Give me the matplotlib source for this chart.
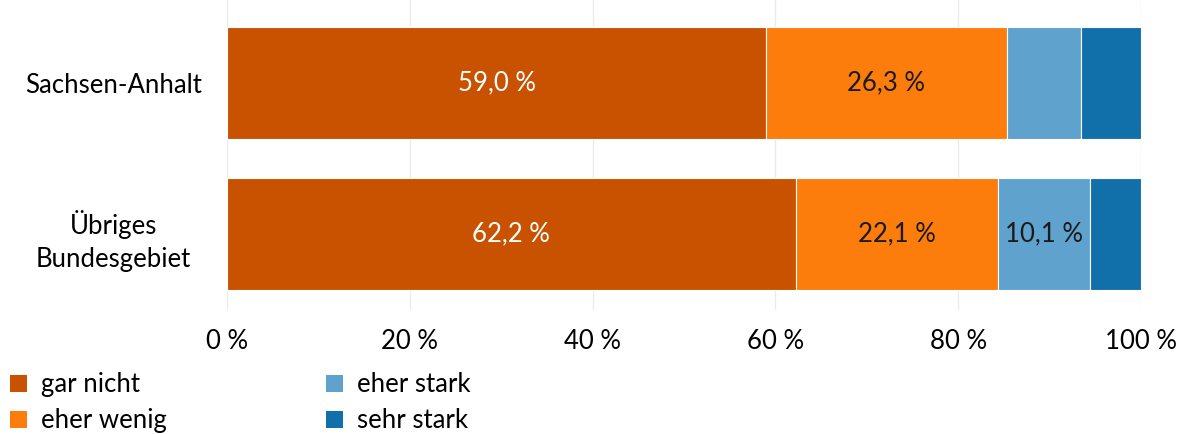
import numpy as np
import matplotlib.pyplot as plt
from matplotlib.patches import Patch

plt.rcParams['font.family'] = ['Lato', 'DejaVu Sans']

regions = ['Sachsen-Anhalt', 'Übriges\nBundesgebiet']
categories = ['gar nicht', 'eher wenig', 'eher stark', 'sehr stark']
values = {
    'gar nicht':  [59.0, 62.2],
    'eher wenig': [26.3, 22.1],
    'eher stark': [8.1, 10.1],
    'sehr stark': [6.6, 5.6],
}
colors = ['#C85200', '#FC7D0B', '#5FA2CE', '#1170AA']
label_colors = ['white', '#1a1a1a', '#1a1a1a', '#1a1a1a']
min_label = 9.0  # smaller segments get no label
fs = 18.5

fig = plt.figure(figsize=(11.85, 4.34), dpi=100)
ax = fig.add_axes([0.1916, 0.286, 0.7713, 0.714])

y = np.arange(len(regions))
left = np.zeros(len(regions))
for cat, col, tcol in zip(categories, colors, label_colors):
    vals = np.array(values[cat])
    ax.barh(y, vals, left=left, height=0.74, color=col,
            edgecolor='white', linewidth=0.8, zorder=3)
    for yi, (l, v) in enumerate(zip(left, vals)):
        if v >= min_label:
            ax.text(l + v / 2, yi, f'{v:.1f} %'.replace('.', ','),
                    ha='center', va='center', color=tcol, fontsize=fs, zorder=4)
    left += vals

ax.set_xlim(0, 100)
ax.set_ylim(1.5, -0.55)
ax.set_xticks(np.arange(0, 101, 20))
ax.set_xticklabels([f'{t} %' for t in range(0, 101, 20)], fontsize=fs)
ax.set_yticks(y)
ax.set_yticklabels(regions, fontsize=fs, linespacing=1.4, ha='center')
ax.tick_params(length=0, pad=14)
ax.tick_params(axis='y', pad=82)
ax.grid(axis='x', color='#ebebeb', linewidth=1, zorder=0)
for s in ax.spines.values():
    s.set_visible(False)

handles = [Patch(facecolor=c, edgecolor='none') for c in colors]
fig.legend(handles, categories, ncol=2, loc='lower left',
           bbox_to_anchor=(0.004, -0.01), frameon=False, fontsize=fs,
           handlelength=0.65, handleheight=0.65, handletextpad=0.55,
           columnspacing=6.2, labelspacing=0.42, borderpad=0.2,
           borderaxespad=0)

fig.savefig('out.png', dpi=100)
